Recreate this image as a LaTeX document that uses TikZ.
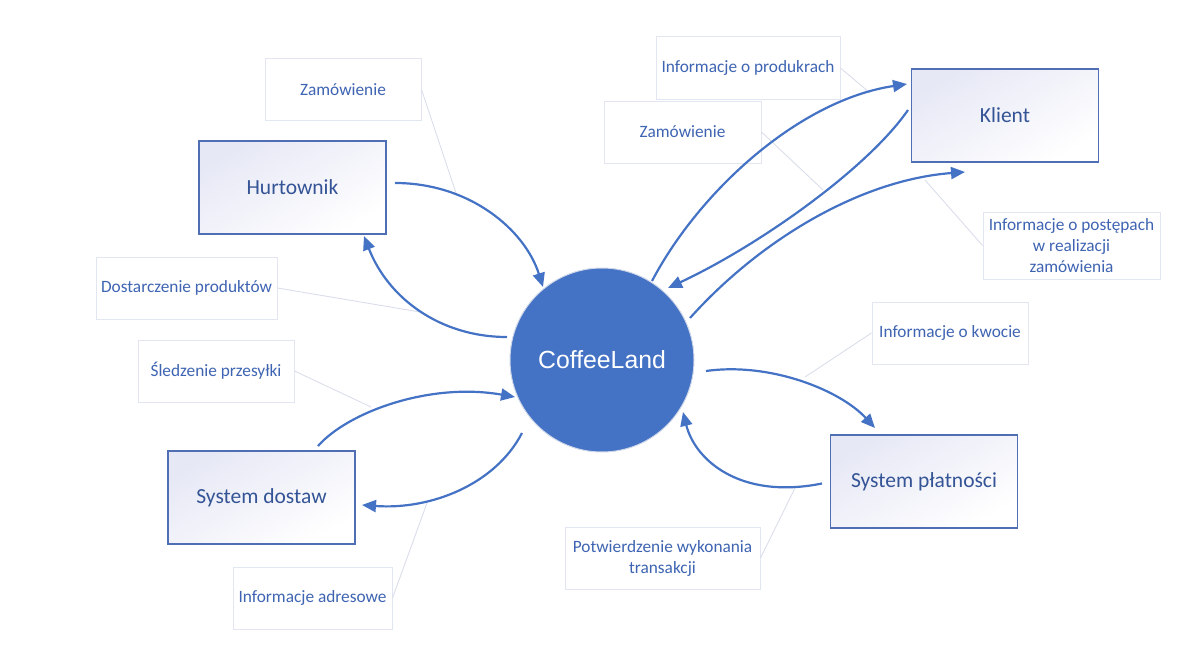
\documentclass[tikz,border=0pt]{standalone}
\usepackage{fontspec}
\setmainfont{Carlito}
\newfontfamily\arialf{Liberation Sans}
\usetikzlibrary{arrows.meta,calc,shapes.geometric}
\definecolor{arrowblue}{RGB}{68,114,196}
\definecolor{boxblue}{RGB}{79,110,180}
\definecolor{boxtext}{RGB}{52,84,150}
\definecolor{lbltext}{RGB}{62,100,178}
\definecolor{lblgray}{RGB}{226,230,240}
\definecolor{leadgray}{RGB}{218,222,234}
\definecolor{lav}{RGB}{230,232,245}
\definecolor{circfill}{RGB}{68,114,196}
\definecolor{circedge}{RGB}{205,214,232}
\tikzset{
  proc/.style={rectangle, draw=boxblue, line width=1.6pt, top color=lav, bottom color=white, shading angle=30,
    text=boxtext, font=\fontsize{21.5}{26}\selectfont, minimum width=187pt, minimum height=93pt, inner sep=0pt},
  lbl/.style={rectangle, draw=lblgray, line width=1pt, fill=white, text=lbltext,
    font=\fontsize{17.3}{21}\selectfont, align=center, inner sep=0pt},
  flow/.style={draw=arrowblue, line width=2.2pt, -{Triangle[length=14pt,width=12pt]}},
  lead/.style={draw=leadgray, line width=0.9pt},
}
\begin{document}
\begin{tikzpicture}[x=1pt,y=-1pt]
\useasboundingbox (0,0) rectangle (1200,661);
% main nodes
\node[circle, fill=circfill, draw=circedge, line width=1pt, minimum size=184pt, inner sep=0pt,
  text=white, font=\arialf\fontsize{24.8}{30}\selectfont] (cl) at (602,360) {CoffeeLand};
\node[proc] (hurt) at (292.5,187.5) {Hurtownik};
\node[proc] (klient) at (1005,115.5) {Klient};
\node[proc] (dostaw) at (261.5,497.5) {System dostaw};
\node[proc] (platn) at (924,481.5) {System płatności};
% label nodes
\node[lbl, minimum width=156pt, minimum height=61pt] (zam1) at (343,89.5) {Zamówienie};
\node[lbl, minimum width=181pt, minimum height=62pt] (dost) at (186.5,288) {Dostarczenie produktów};
\node[lbl, minimum width=156pt, minimum height=62pt] (sled) at (216,371) {Śledzenie przesyłki};
\node[lbl, minimum width=159pt, minimum height=62pt] (adr) at (312.5,598) {Informacje adresowe};
\node[lbl, minimum width=184pt, minimum height=62pt] (prod) at (748,68) {Informacje o produkrach};
\node[lbl, minimum width=157pt, minimum height=62pt] (zam2) at (682.5,132) {Zamówienie};
\node[lbl, minimum width=177pt, minimum height=67pt] (post) at (1071.5,245.5) {Informacje o postępach\\w realizacji\\zamówienia};
\node[lbl, minimum width=156pt, minimum height=62pt] (kwota) at (950,333) {Informacje o kwocie};
\node[lbl, minimum width=195pt, minimum height=62pt] (potw) at (662.5,558) {Potwierdzenie wykonania\\transakcji};
% leader end points
\coordinate (l1) at (457,196);
\coordinate (l2) at (420,312);
\coordinate (l3) at (371,407);
\coordinate (l4) at (427,503);
\coordinate (l5) at (870,93);
\coordinate (l6) at (823,190);
\coordinate (l7) at (925,180);
\coordinate (l8) at (805,377);
\coordinate (l9) at (795,488);
\draw[lead] (zam1.east) -- (l1);
\draw[lead] (dost.east) -- (l2);
\draw[lead] (sled.east) -- (l3);
\draw[lead] (adr.east) -- (l4);
\draw[lead] (prod.east) -- (l5);
\draw[lead] (zam2.east) -- (l6);
\draw[lead] (post.west) -- (l7);
\draw[lead] (kwota.west) -- (l8);
\draw[lead] (potw.east) -- (l9);
% flows
\draw[flow] ($(hurt)+(102.5,-4.5)$) .. controls (470,183) and (525,230) .. ($(cl)+(-59,-73)$);
\draw[flow] ($(cl)+(-95,-23)$) .. controls (440,337) and (388,298) .. ($(hurt)+(71.5,48.5)$);
\draw[flow] ($(cl)+(-80,73)$) .. controls (495,485) and (430,510) .. ($(dostaw)+(100.5,7.5)$);
\draw[flow] ($(dostaw)+(56.5,-51.5)$) .. controls (348,412) and (430,382) .. ($(cl)+(-87,37)$);
\draw[flow] ($(cl)+(104,11)$) .. controls (770,362) and (840,390) .. ($(platn)+(-49,-53.5)$);
\draw[flow] ($(platn)+(-102,2)$) .. controls (740,500) and (695,460) .. ($(cl)+(81,52)$);
\draw[flow] ($(cl)+(50,-79)$) .. controls (700,190) and (800,100) .. ($(klient)+(-98,-31.5)$);
\draw[flow] ($(klient)+(-97,-5.5)$) .. controls (868,168) and (760,245) .. ($(cl)+(66,-72)$);
\draw[flow] ($(cl)+(88,-42)$) .. controls (760,240) and (860,180) .. ($(klient)+(-40,56.5)$);
\end{tikzpicture}
\end{document}
